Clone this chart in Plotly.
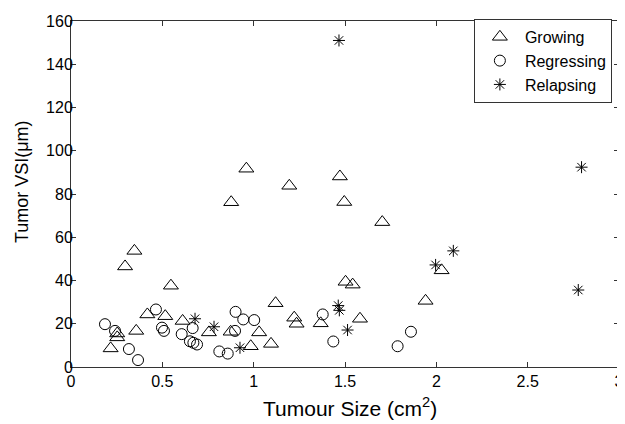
import plotly.graph_objects as go

# Growing (triangles)
grow_x = [0.96, 0.877, 0.347, 0.296, 0.547, 0.253, 0.253, 0.217, 0.357, 0.418,
          0.516, 0.611, 0.755, 0.874, 0.984, 1.03, 1.12, 1.095, 1.222, 1.235,
          1.367, 1.582, 1.503, 1.542, 1.941, 2.029, 1.195, 1.472, 1.496, 1.704]
grow_y = [91.7, 76.2, 53.7, 46.5, 37.6, 15.5, 13.7, 8.6, 16.7, 24.3,
          23.5, 21.3, 16.0, 16.3, 9.6, 16.0, 29.5, 10.7, 22.8, 20.0,
          20.2, 22.3, 39.4, 38.1, 30.6, 44.7, 83.8, 88.1, 76.3, 67.0]

# Regressing (circles)
regr_x = [0.186, 0.241, 0.317, 0.367, 0.465, 0.498, 0.509, 0.666, 0.606, 0.651,
          0.67, 0.69, 0.898, 0.812, 0.858, 0.901, 0.943, 1.003, 1.378, 1.436,
          1.788, 1.861]
regr_y = [19.8, 16.7, 8.3, 3.2, 26.6, 18.2, 16.7, 18.0, 15.2, 11.9,
          11.2, 10.4, 16.7, 7.2, 6.2, 25.5, 22.0, 21.7, 24.3, 11.8,
          9.6, 16.3]

# Relapsing (asterisks)
rel_x = [0.679, 0.783, 0.925, 1.463, 1.469, 1.514, 1.467, 1.996, 2.093, 2.795, 2.777]
rel_y = [22.3, 18.6, 8.9, 28.4, 26.2, 17.1, 151.0, 47.2, 53.7, 92.4, 35.6]

x_ticks = [0, 0.5, 1, 1.5, 2, 2.5, 3]
x_labels = ["0", "0.5", "1", "1.5", "2", "2.5", "3"]
y_ticks = [0, 20, 40, 60, 80, 100, 120, 140, 160]

FONT = "Liberation Sans, Arial, sans-serif"

fig = go.Figure()

fig.add_trace(go.Scatter(
    x=grow_x, y=grow_y, mode="markers", name="Growing",
    marker=dict(symbol="triangle-up-open", size=13, color="black",
                line=dict(width=1, color="black")),
))
fig.add_trace(go.Scatter(
    x=regr_x, y=regr_y, mode="markers", name="Regressing",
    marker=dict(symbol="circle-open", size=11, color="black",
                line=dict(width=1, color="black")),
))
fig.add_trace(go.Scatter(
    x=rel_x, y=rel_y, mode="markers", name="Relapsing",
    marker=dict(symbol="asterisk-open", size=10, color="black",
                line=dict(width=1, color="black")),
))

axis_common = dict(
    showgrid=False, zeroline=False, showline=True, linecolor="#333333",
    linewidth=1, mirror="allticks", ticks="inside", ticklen=5,
    tickcolor="#333333", tickfont=dict(size=16, color="black", family=FONT),
    ticklabeloverflow="allow",
)

# page body adds an 8px offset, margins account for it
fig.update_layout(
    width=625, height=424,
    margin=dict(l=63, r=14, t=5, b=65),
    paper_bgcolor="white", plot_bgcolor="white",
    font=dict(family=FONT, color="black"),
    xaxis=dict(range=[0, 3], tickvals=x_ticks, ticktext=x_labels, **axis_common),
    yaxis=dict(range=[0, 160], tickvals=y_ticks, ticklabelstandoff=-6,
               **axis_common),
    legend=dict(x=0.987, y=1.006, xanchor="right", yanchor="top",
                bordercolor="#333333", borderwidth=1, bgcolor="white",
                font=dict(size=16, color="black", family=FONT),
                itemwidth=40),
    showlegend=True,
)

fig.add_annotation(text="Tumour Size (cm<sup>2</sup>)", xref="paper", yref="paper",
                   x=0.509, y=-0.116, xanchor="center", yanchor="middle",
                   showarrow=False, font=dict(size=21, color="black", family=FONT))
fig.add_annotation(text="Tumor VSI(μm)", xref="paper", yref="paper",
                   x=-0.089, y=0.535, xanchor="center", yanchor="middle",
                   textangle=-90, showarrow=False,
                   font=dict(size=18, color="black", family=FONT))

fig.write_html("out.html")
